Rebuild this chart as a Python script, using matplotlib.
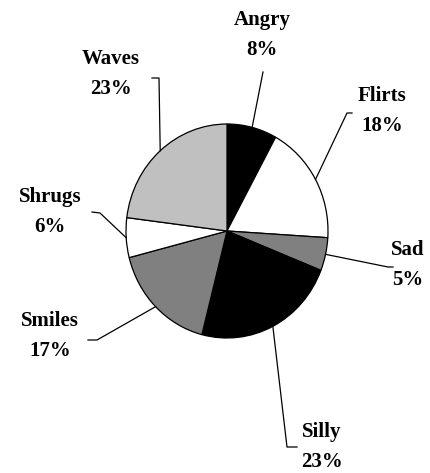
import numpy as np
import matplotlib
matplotlib.use('Agg')
import matplotlib.pyplot as plt

# dados do grafico
categorias = ['Angry', 'Flirts', 'Sad', 'Silly', 'Smiles', 'Shrugs', 'Waves']
percentuais = [8, 18, 5, 23, 17, 6, 23]
cores = ['#000000', '#ffffff', '#808080', '#000000', '#808080', '#ffffff', '#c0c0c0']

# posicoes dos rotulos (pixels) e cotovelos das linhas
pos_texto = [(262, 35), (382, 111), (408, 265), (322, 447), (50, 336), (50, 212), (111, 74)]
cotovelo = [(263, 72), (347, 113), (388, 267), (287, 447), (97, 340), (100, 213), (159, 78)]
fim_linha = [(263, 72), (352, 113), (393, 267), (297, 447), (88, 340), (92, 212), (152, 78)]

W, H = 430, 473
cx, cy, rx, ry = 227, 231, 101, 107


def px(x, y):
    return ((x - cx) / rx, (cy - y) / ry)


fig = plt.figure(figsize=(W / 100, H / 100), dpi=100)
ax = fig.add_axes([0, 0, 1, 1])
ax.pie(percentuais, colors=cores, startangle=90, counterclock=False,
       wedgeprops={'edgecolor': 'black', 'linewidth': 0.9})
ax.set_aspect('auto')
ax.set_xlim(-cx / rx, (W - cx) / rx)
ax.set_ylim(-(H - cy) / ry, cy / ry)
ax.axis('off')

fracoes = np.cumsum([0] + percentuais) / sum(percentuais)
for i, nome in enumerate(categorias):
    meio = np.deg2rad(90 - 360 * (fracoes[i] + fracoes[i + 1]) / 2)
    x0, y0 = np.cos(meio), np.sin(meio)
    x1, y1 = px(*cotovelo[i])
    x2, y2 = px(*fim_linha[i])
    ax.plot([x0, x1, x2], [y0, y1, y2], color='black', lw=0.9)
    tx, ty = px(*pos_texto[i])
    ax.text(tx, ty, f'{nome}\n{percentuais[i]}%', ha='center', va='center',
            fontsize=15, fontweight='bold', family='Liberation Serif',
            linespacing=1.72)

plt.savefig('out.png', dpi=100)
